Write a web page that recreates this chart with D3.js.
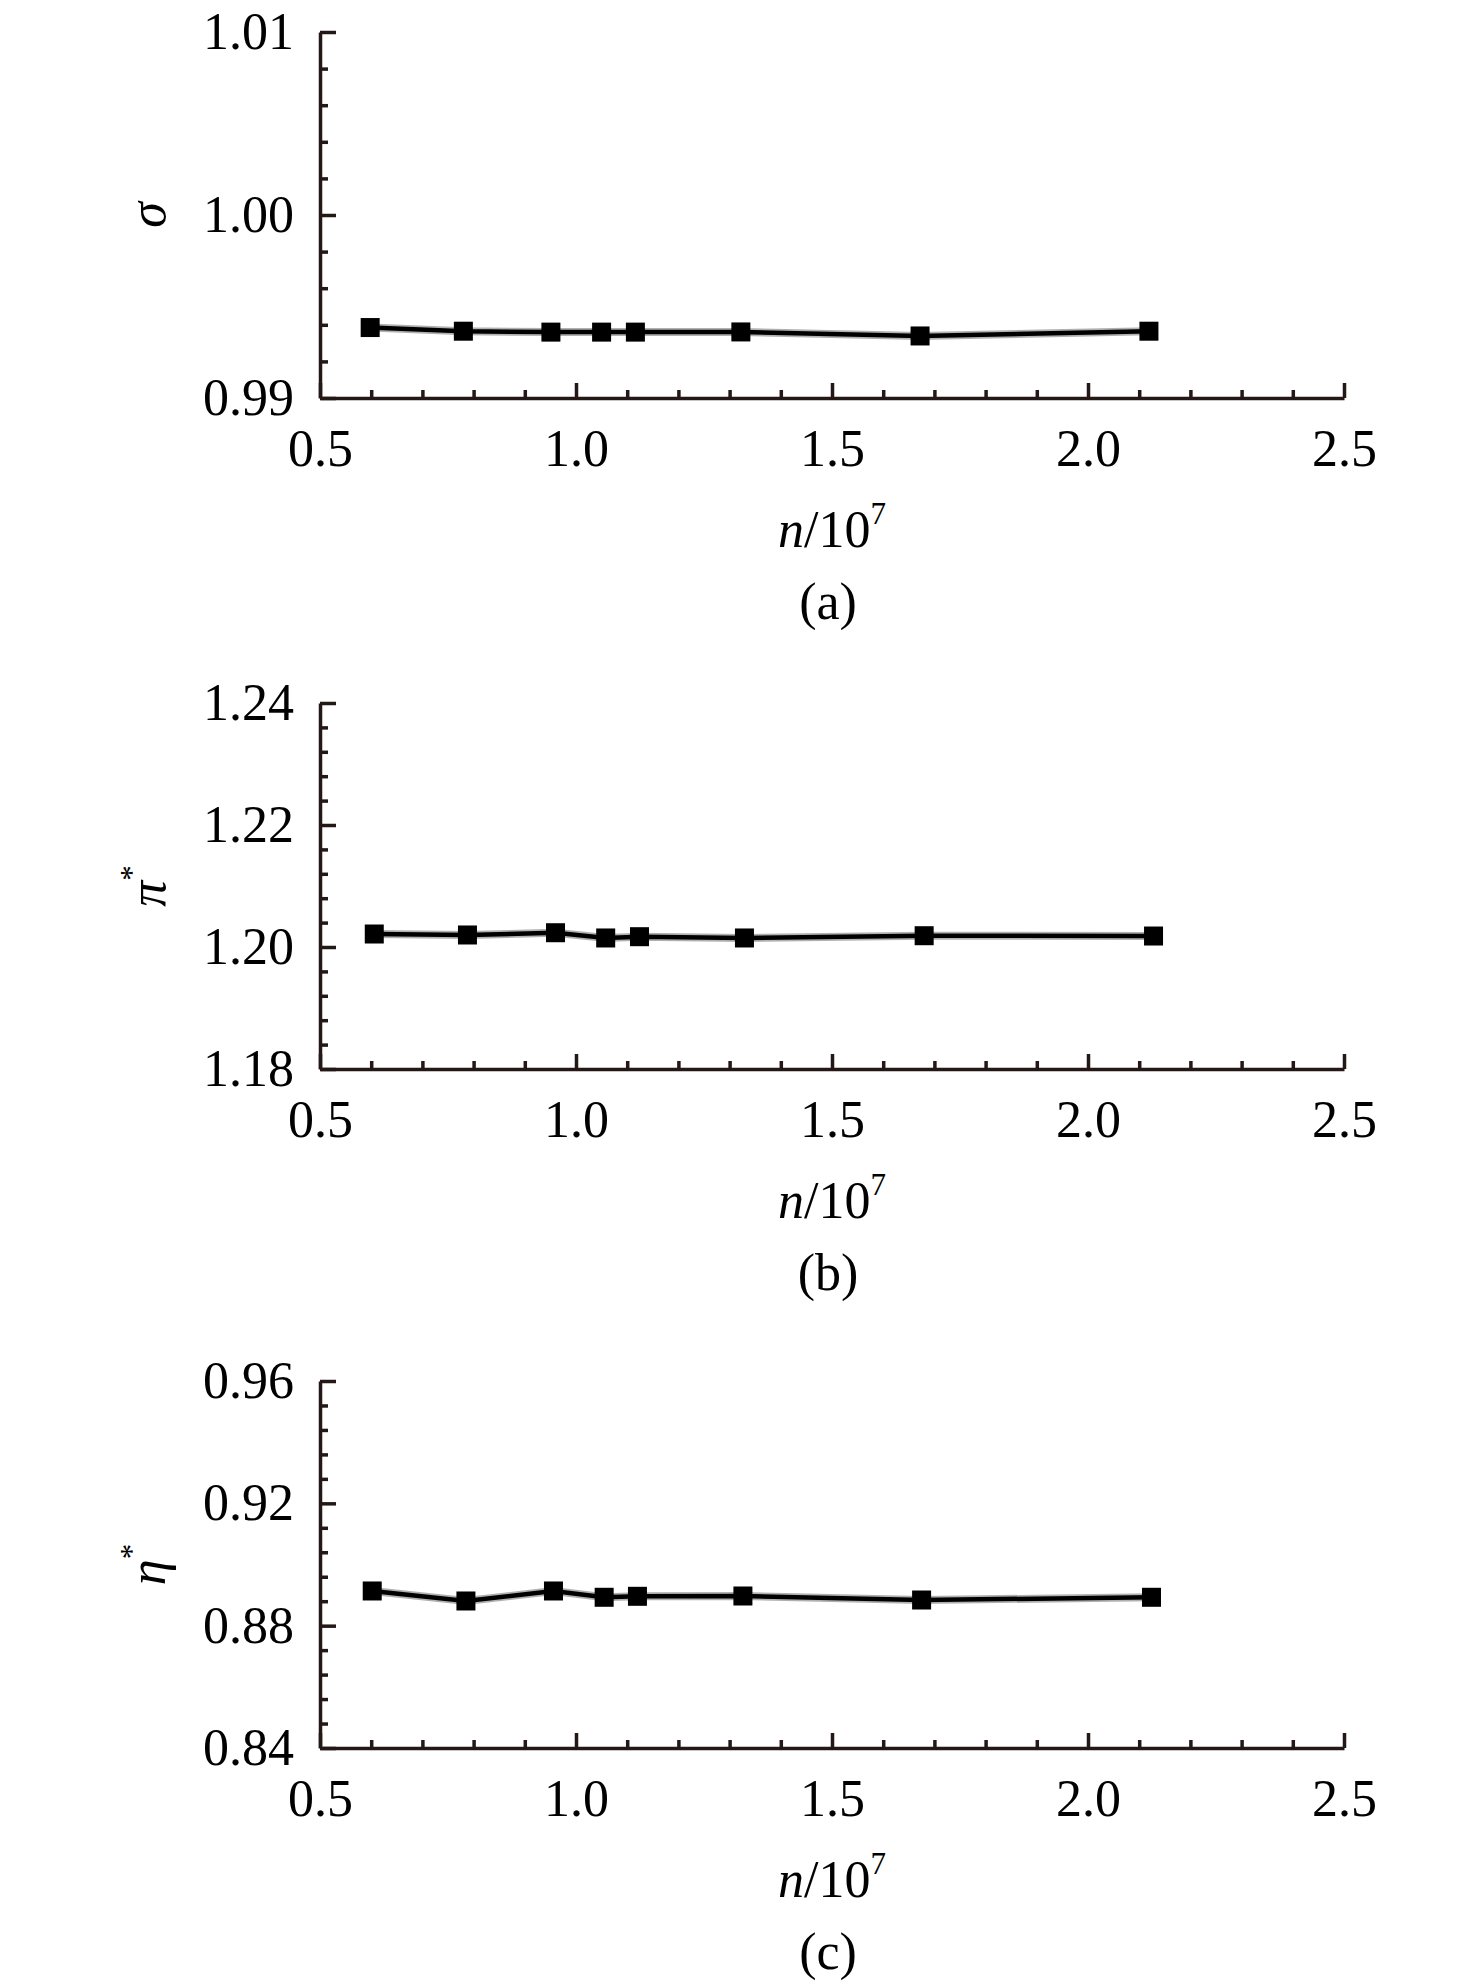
<!DOCTYPE html>
<html>
<head>
<meta charset="utf-8">
<script src="https://cdn.jsdelivr.net/npm/d3@7"></script>
<style>
  body { margin: 0; background: #fff; }
  text { font-family: "Liberation Serif", "Times New Roman", serif; fill: #000; }
</style>
</head>
<body>
<div id="chart"></div>
<script>
// values, n in units of 10^7
const nA = [0.598, 0.780, 0.951, 1.050, 1.116, 1.322, 1.672, 2.119];
const sigma = [0.99385, 0.99365, 0.9936, 0.9936, 0.9936, 0.99361, 0.99339, 0.99365];
const nB = [0.606, 0.788, 0.960, 1.058, 1.124, 1.329, 1.680, 2.128];
const piStar = [1.20213, 1.20197, 1.20234, 1.20148, 1.20169, 1.20148, 1.20185, 1.2018];
const nC = [0.602, 0.785, 0.956, 1.055, 1.120, 1.326, 1.675, 2.124];
const etaStar = [0.89134, 0.88807, 0.89134, 0.88928, 0.8896, 0.8897, 0.88839, 0.88928];

const xTicks = [0.5, 1.0, 1.5, 2.0, 2.5];
const sigmaTicks = [0.99, 1.00, 1.01];
const piTicks = [1.18, 1.20, 1.22, 1.24];
const etaTicks = [0.84, 0.88, 0.92, 0.96];

const width = 1476;
const height = 1988;
const left = 320, right = 1344;
const axisColor = "#231815";
const fontSize = 52;

const panels = [
    { xs: nA, ys: sigma, ticks: sigmaTicks, minor: 0.002, label: "σ", sup: "", tag: "(a)", top: 32, bottom: 398 },
    { xs: nB, ys: piStar, ticks: piTicks, minor: 0.004, label: "π", sup: "*", tag: "(b)", top: 703, bottom: 1069 },
    { xs: nC, ys: etaStar, ticks: etaTicks, minor: 0.008, label: "η", sup: "*", tag: "(c)", top: 1381, bottom: 1748 }
];

const svg = d3.select("#chart")
    .append("svg")
    .attr("width", width)
    .attr("height", height)
    .style("background", "#fff");

const x = d3.scaleLinear().domain([0.5, 2.5]).range([left, right]);
const xMinor = d3.range(0.6, 2.5, 0.1).filter(v => Math.abs(v * 2 - Math.round(v * 2)) > 0.01);

function styleAxis(g) {
    g.selectAll("path, line").attr("stroke", axisColor).attr("stroke-width", 3.5);
    g.selectAll("text")
        .style("font-family", "'Liberation Serif', 'Times New Roman', serif")
        .attr("font-size", fontSize)
        .attr("fill", "#000");
}

panels.forEach(p => {
    const lo = p.ticks[0], hi = p.ticks[p.ticks.length - 1];
    const y = d3.scaleLinear().domain([lo, hi]).range([p.bottom, p.top]);
    const yMinor = d3.range(lo, hi + p.minor / 2, p.minor)
        .filter(v => !p.ticks.some(t => Math.abs(t - v) < p.minor / 10));

    // minor ticks first, underneath
    svg.append("g")
        .attr("transform", `translate(${left},0)`)
        .call(d3.axisLeft(y).tickValues(yMinor).tickSize(-8).tickSizeOuter(0).tickFormat(""))
        .call(g => g.select(".domain").remove())
        .call(styleAxis);

    svg.append("g")
        .attr("transform", `translate(0,${p.bottom})`)
        .call(d3.axisBottom(x).tickValues(xMinor).tickSize(-8).tickSizeOuter(0).tickFormat(""))
        .call(g => g.select(".domain").remove())
        .call(styleAxis);

    // major axes
    svg.append("g")
        .attr("transform", `translate(${left},0)`)
        .call(d3.axisLeft(y).tickValues(p.ticks).tickSize(-16).tickSizeOuter(0)
            .tickPadding(26).tickFormat(d3.format(".2f")))
        .call(styleAxis);

    svg.append("g")
        .attr("transform", `translate(0,${p.bottom})`)
        .call(d3.axisBottom(x).tickValues(xTicks).tickSize(-15).tickSizeOuter(0)
            .tickFormat(d3.format(".1f")))
        .call(styleAxis)
        .call(g => g.selectAll("text").attr("y", 68).attr("dy", 0));

    // y label, rotated
    const yl = svg.append("text")
        .attr("transform", `translate(165,${(p.top + p.bottom) / 2}) rotate(-90)`)
        .attr("text-anchor", "middle")
        .attr("font-size", fontSize)
        .attr("font-style", "italic");
    yl.append("tspan").text(p.label);
    if (p.sup) {
        yl.append("tspan").attr("font-size", 31).attr("font-style", "normal")
            .attr("dy", -23).text(p.sup);
    }

    // x label
    const xl = svg.append("text")
        .attr("x", (left + right) / 2)
        .attr("y", p.bottom + 149)
        .attr("text-anchor", "middle")
        .attr("font-size", fontSize);
    xl.append("tspan").attr("font-style", "italic").text("n");
    xl.append("tspan").text("/10");
    xl.append("tspan").attr("font-size", 31).attr("dy", -23).text("7");

    svg.append("text")
        .attr("x", (left + right) / 2 - 4)
        .attr("y", p.bottom + 221)
        .attr("text-anchor", "middle")
        .attr("font-size", fontSize)
        .text(p.tag);

    // series
    const pts = p.xs.map((v, i) => [v, p.ys[i]]);
    const line = d3.line().x(d => x(d[0])).y(d => y(d[1]));

    svg.append("path")
        .datum(pts)
        .attr("d", line)
        .attr("fill", "none")
        .attr("stroke", "#b0b0b0")
        .attr("stroke-width", 8);

    svg.append("path")
        .datum(pts)
        .attr("d", line)
        .attr("fill", "none")
        .attr("stroke", "#000")
        .attr("stroke-width", 4.5);

    svg.append("g")
        .selectAll("rect")
        .data(pts)
        .enter()
        .append("rect")
        .attr("x", d => x(d[0]) - 9.5)
        .attr("y", d => y(d[1]) - 9.5)
        .attr("width", 19)
        .attr("height", 19)
        .attr("fill", "#000");
});
</script>
</body>
</html>
